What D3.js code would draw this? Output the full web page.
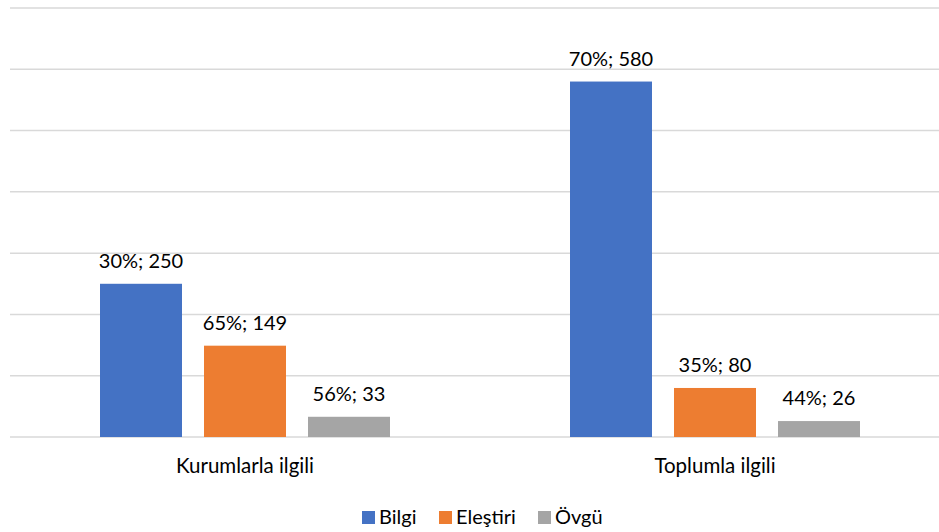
<!DOCTYPE html>
<html><head><meta charset="utf-8">
<script src="https://cdn.jsdelivr.net/npm/d3@7"></script>
<style>body{margin:0;background:#fff}svg{display:block}text{font-family:Lato,"Open Sans",sans-serif;fill:#000}</style>
</head><body><svg id="c" width="939" height="532"></svg>
<script>
const categories = ["Kurumlarla ilgili", "Toplumla ilgili"];
const seriesNames = ["Bilgi", "Eleştiri", "Övgü"];
const seriesColors = ["#4472C4", "#ED7D31", "#A5A5A5"];
const bilgiValues = [250, 580];
const elestiriValues = [149, 80];
const ovguValues = [33, 26];
const bilgiPct = ["30%", "70%"];
const elestiriPct = ["65%", "35%"];
const ovguPct = ["56%", "44%"];
const yTicks = [0, 100, 200, 300, 400, 500, 600, 700];

const values = [bilgiValues, elestiriValues, ovguValues];
const pcts = [bilgiPct, elestiriPct, ovguPct];

const svg = d3.select("#c");
const x0 = d3.scaleBand().domain(categories).range([10, 950]).paddingInner(0).paddingOuter(0);
const step = x0.bandwidth();
const x1 = d3.scaleBand().domain(seriesNames).range([90, step - 90]).paddingInner(22/104).paddingOuter(0);
const y = d3.scaleLinear().domain([0, 700]).range([437, 8]);

// gridlines
svg.append("g").selectAll("line").data(yTicks).join("line")
  .attr("x1", 10).attr("x2", 939)
  .attr("y1", d => y(d)).attr("y2", d => y(d))
  .attr("stroke", "#d9d9d9").attr("stroke-width", 1.5);

const data = [];
categories.forEach((c, i) => seriesNames.forEach((s, j) => data.push({c, s, j, v: values[j][i], p: pcts[j][i]})));

const g = svg.append("g");
g.selectAll("rect").data(data).join("rect")
  .attr("x", d => x0(d.c) + x1(d.s))
  .attr("width", x1.bandwidth())
  .attr("y", d => y(d.v))
  .attr("height", d => y(0) - y(d.v))
  .attr("fill", d => seriesColors[d.j]);

g.selectAll("text.lbl").data(data).join("text").attr("class", "lbl")
  .attr("x", d => x0(d.c) + x1(d.s) + x1.bandwidth()/2)
  .attr("y", d => y(d.v) - 16)
  .attr("text-anchor", "middle").attr("font-size", 20)
  .text(d => d.p + "; " + d.v);

// category axis labels
svg.append("g").selectAll("text").data(categories).join("text")
  .attr("x", d => x0(d) + step/2).attr("y", 473)
  .attr("text-anchor", "middle").attr("font-size", 20.5).text(d => d);

// legend
const legendX = [362, 439, 538];
const lg = svg.append("g");
seriesNames.forEach((s, j) => {
  lg.append("rect").attr("x", legendX[j]).attr("y", 511).attr("width", 13).attr("height", 13).attr("fill", seriesColors[j]);
  lg.append("text").attr("x", legendX[j] + 17).attr("y", 524).attr("font-size", 20).text(s);
});
</script></body></html>
